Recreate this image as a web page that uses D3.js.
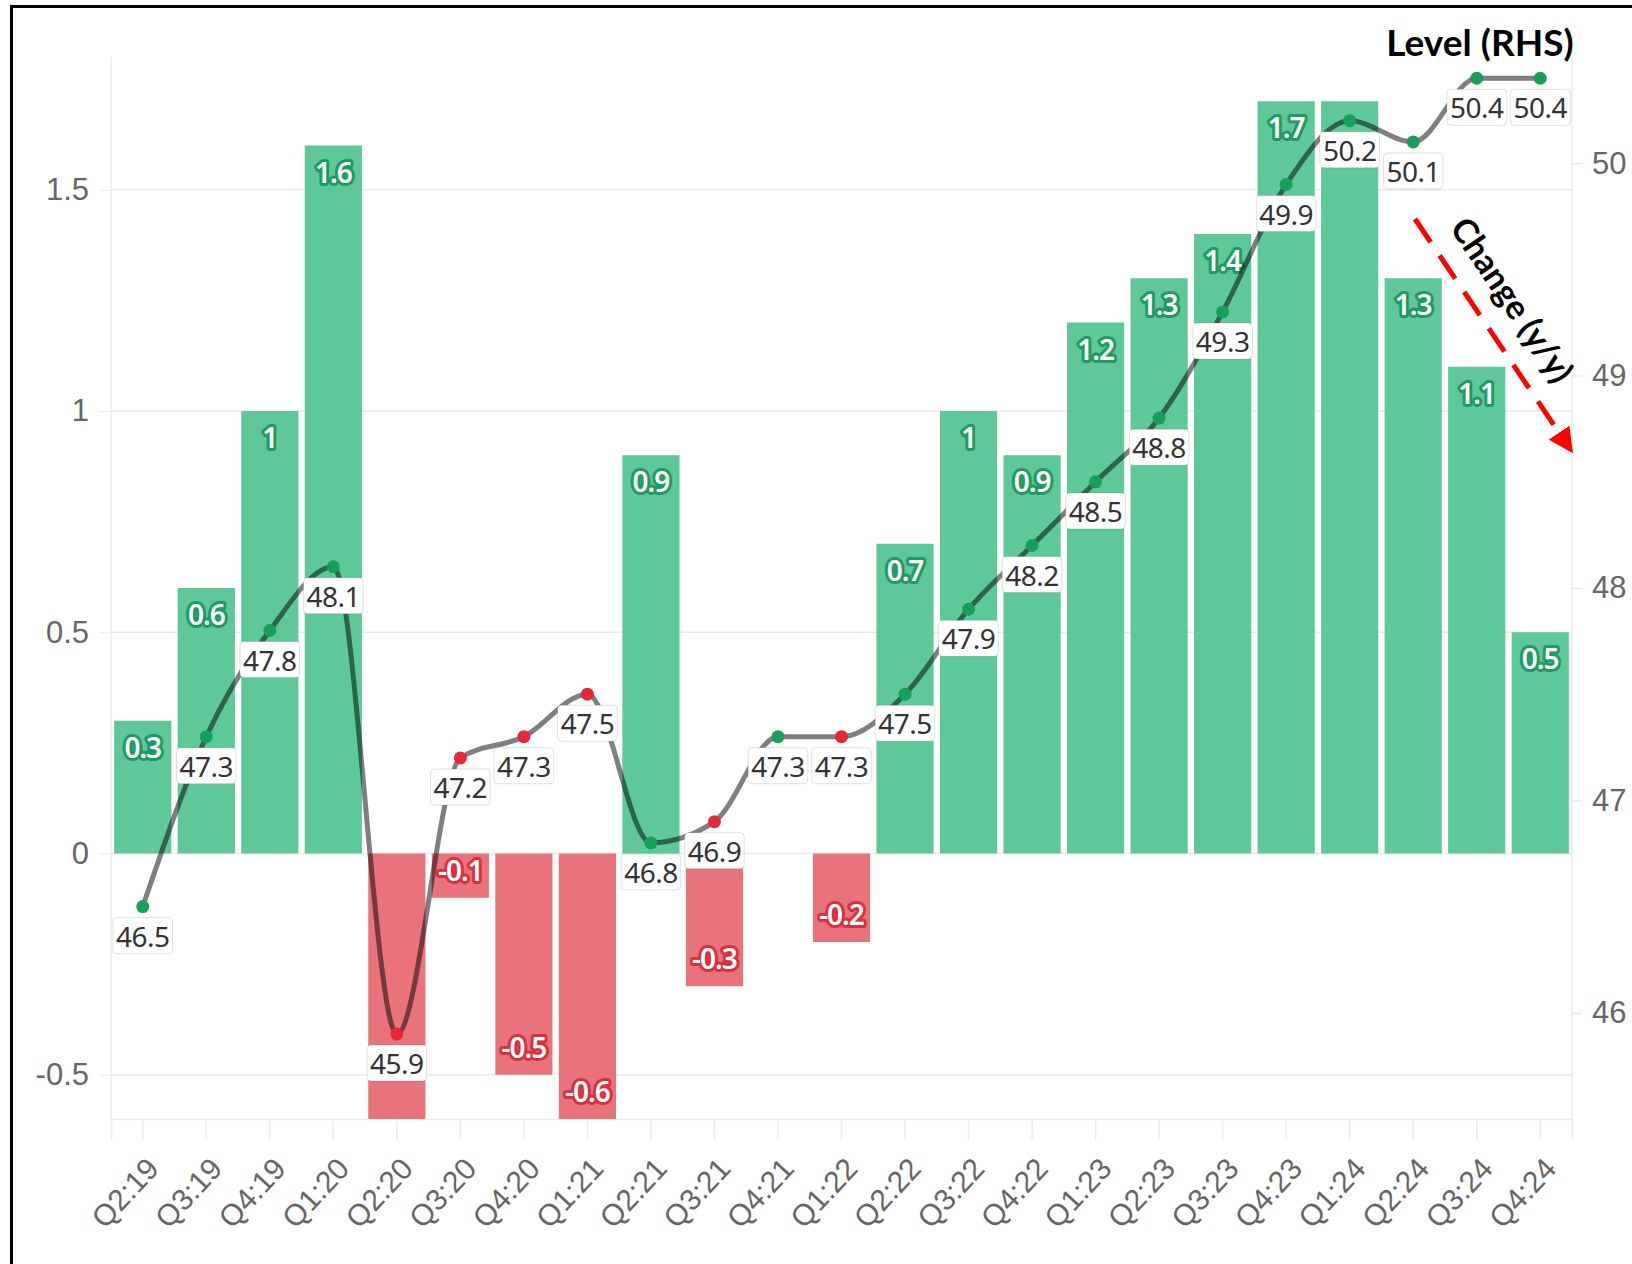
<!DOCTYPE html>
<html>
<head>
<meta charset="utf-8">
<script src="https://cdn.jsdelivr.net/npm/d3@7"></script>
<style>
  body { margin: 0; background: #fff; }
  svg { display: block; font-family: "Noto Sans", Roboto, sans-serif; }
</style>
</head>
<body>
<div id="chart"></div>
<script>
var quarters = ["Q2:19", "Q3:19", "Q4:19", "Q1:20", "Q2:20", "Q3:20", "Q4:20", "Q1:21",
  "Q2:21", "Q3:21", "Q4:21", "Q1:22", "Q2:22", "Q3:22", "Q4:22", "Q1:23", "Q2:23",
  "Q3:23", "Q4:23", "Q1:24", "Q2:24", "Q3:24", "Q4:24"];
var change = [0.3, 0.6, 1, 1.6, -0.6, -0.1, -0.5, -0.6, 0.9, -0.3, 0, -0.2, 0.7, 1,
  0.9, 1.2, 1.3, 1.4, 1.7, 1.7, 1.3, 1.1, 0.5];
var level = [46.5, 47.3, 47.8, 48.1, 45.9, 47.2, 47.3, 47.5, 46.8, 46.9, 47.3, 47.3,
  47.5, 47.9, 48.2, 48.5, 48.8, 49.3, 49.9, 50.2, 50.1, 50.4, 50.4];
var leftTicks = [-0.5, 0, 0.5, 1, 1.5];
var rightTicks = [46, 47, 48, 49, 50];
// bar labels the original hides behind the line labels
var hiddenBarLabels = ["Q2:20", "Q1:24"];

var width = 1632, height = 1264;
var pLeft = 111, pRight = 1572, pTop = 57, pBottom = 1119;

var green = "#5ec899", red = "#e9737b";
var greenDot = "#17a05a", redDot = "#e8283a";

var svg = d3.select("#chart").append("svg")
  .attr("width", width)
  .attr("height", height);

var data = quarters.map(function (q, i) {
  return { q: q, change: change[i], level: level[i] };
});

var x = d3.scaleBand()
  .domain(quarters)
  .range([pLeft, pRight])
  .paddingInner(0.1)
  .paddingOuter(0.05);

var yL = d3.scaleLinear().domain([-0.6, 1.8]).range([pBottom, pTop]);
var yR = d3.scaleLinear().domain([45.5, 50.5]).range([pBottom, pTop]);

function cx(d) { return x(d.q) + x.bandwidth() / 2; }

// grid
svg.append("g").selectAll("line")
  .data(leftTicks)
  .join("line")
  .attr("x1", pLeft).attr("x2", pRight)
  .attr("y1", function (d) { return yL(d); })
  .attr("y2", function (d) { return yL(d); })
  .attr("stroke", "#ebebeb").attr("stroke-width", 1.5);

// left axis
var gl = svg.append("g")
  .attr("transform", "translate(" + pLeft + ",0)")
  .call(d3.axisLeft(yL).tickValues(leftTicks).tickSize(12).tickPadding(10)
    .tickFormat(function (d) { return String(d); }));
gl.select(".domain").attr("stroke", "#ececec").attr("stroke-width", 1.5)
  .attr("d", "M0," + pTop + "V" + pBottom);
gl.selectAll(".tick line").attr("stroke", "#ececec");
gl.selectAll("text").attr("fill", "#666").style("font-size", "31px");

// right axis
var gr = svg.append("g")
  .attr("transform", "translate(" + pRight + ",0)")
  .call(d3.axisRight(yR).tickValues(rightTicks).tickSize(10).tickPadding(10)
    .tickFormat(function (d) { return String(d); }));
gr.select(".domain").attr("stroke", "#ececec").attr("stroke-width", 1.5)
  .attr("d", "M0," + pTop + "V" + pBottom);
gr.selectAll(".tick line").attr("stroke", "#e4e4e4");
gr.selectAll("text").attr("fill", "#666").style("font-size", "31px");

// bottom axis
var gb = svg.append("g")
  .attr("transform", "translate(0," + pBottom + ")")
  .call(d3.axisBottom(x).tickSize(21));
gb.select(".domain").attr("stroke", "#ececec").attr("stroke-width", 1.5);
gb.selectAll(".tick line").attr("stroke", "#ececec").attr("stroke-width", 1.5);
gb.selectAll("text")
  .attr("x", 0).attr("y", 0)
  .attr("fill", "#666")
  .style("font-size", "30px")
  .attr("text-anchor", "end")
  .attr("transform", "translate(10,44) rotate(-47)")
  .attr("dy", "0.35em");

// bars
svg.append("g").selectAll("rect")
  .data(data.filter(function (d) { return d.change !== 0; }))
  .join("rect")
  .attr("x", function (d) { return x(d.q); })
  .attr("width", x.bandwidth())
  .attr("y", function (d) { return Math.min(yL(d.change), yL(0)); })
  .attr("height", function (d) { return Math.abs(yL(d.change) - yL(0)); })
  .attr("fill", function (d) { return d.change >= 0 ? green : red; });

// bar labels
svg.append("g").selectAll("text")
  .data(data.filter(function (d) {
    return d.change !== 0 && hiddenBarLabels.indexOf(d.q) < 0;
  }))
  .join("text")
  .attr("x", cx)
  .attr("y", function (d) { return yL(d.change) + (d.change > 0 ? 27 : -27); })
  .attr("dy", "0.36em")
  .attr("text-anchor", "middle")
  .style("font-size", "28px")
  .style("font-weight", "600")
  .style("letter-spacing", "-1px")
  .attr("fill", "#fff")
  .attr("stroke", function (d) { return d.change > 0 ? "#1f9a62" : "#d8303e"; })
  .attr("stroke-width", 6)
  .attr("stroke-linejoin", "round")
  .attr("paint-order", "stroke")
  .text(function (d) { return d.change; });

// level line
var line = d3.line()
  .x(cx)
  .y(function (d) { return yR(d.level); })
  .curve(d3.curveMonotoneX);

svg.append("path")
  .datum(data)
  .attr("d", line)
  .attr("fill", "none")
  .attr("stroke", "#000")
  .attr("stroke-opacity", 0.5)
  .attr("stroke-width", 5);

svg.append("g").selectAll("circle")
  .data(data)
  .join("circle")
  .attr("cx", cx)
  .attr("cy", function (d) { return yR(d.level); })
  .attr("r", 6.5)
  .attr("fill", function (d) { return d.change >= 0 ? greenDot : redDot; });

// level labels, white boxes
var lab = svg.append("g").selectAll("g")
  .data(data)
  .join("g")
  .attr("transform", function (d) {
    return "translate(" + cx(d) + "," + (yR(d.level) + 30) + ")";
  });
lab.append("text")
  .attr("text-anchor", "middle")
  .attr("dy", "0.36em")
  .style("font-size", "28px")
  .style("letter-spacing", "-0.5px")
  .attr("fill", "#333")
  .text(function (d) { return d.level.toFixed(1); });
lab.each(function () {
  var g = d3.select(this);
  var b = g.select("text").node().getBBox();
  g.insert("rect", "text")
    .attr("x", b.x - 3).attr("y", b.y + 1)
    .attr("width", b.width + 6).attr("height", b.height - 2)
    .attr("rx", 4)
    .attr("fill", "#fff")
    .attr("stroke", "#000").attr("stroke-opacity", 0.12);
});

// annotations
svg.append("text")
  .attr("x", 1480).attr("y", 56)
  .attr("text-anchor", "middle")
  .style("font-family", "Lato, 'Open Sans', sans-serif")
  .style("font-weight", "700")
  .style("font-size", "37px")
  .attr("fill", "#000")
  .text("Level (RHS)");

svg.append("defs").append("marker")
  .attr("id", "arrow")
  .attr("viewBox", "0 0 10 10")
  .attr("refX", 5).attr("refY", 5)
  .attr("markerWidth", 5).attr("markerHeight", 5)
  .attr("orient", "auto")
  .append("path")
  .attr("d", "M0,0L10,5L0,10Z")
  .attr("fill", "#f00");

svg.append("line")
  .attr("x1", 1415).attr("y1", 219)
  .attr("x2", 1566).attr("y2", 443)
  .attr("stroke", "#f00")
  .attr("stroke-width", 5)
  .attr("stroke-dasharray", "28,16")
  .attr("marker-end", "url(#arrow)");

svg.append("text")
  .attr("transform", "translate(1512,300) rotate(56)")
  .attr("text-anchor", "middle")
  .attr("dy", "0.35em")
  .style("font-family", "Lato, 'Open Sans', sans-serif")
  .style("font-weight", "700")
  .style("font-size", "34px")
  .attr("fill", "#000")
  .text("Change (y/y)");

// frame
svg.append("rect")
  .attr("x", 11.5).attr("y", 6.5)
  .attr("width", 1700).attr("height", 1400)
  .attr("fill", "none")
  .attr("stroke", "#000")
  .attr("stroke-width", 3);
</script>
</body>
</html>
